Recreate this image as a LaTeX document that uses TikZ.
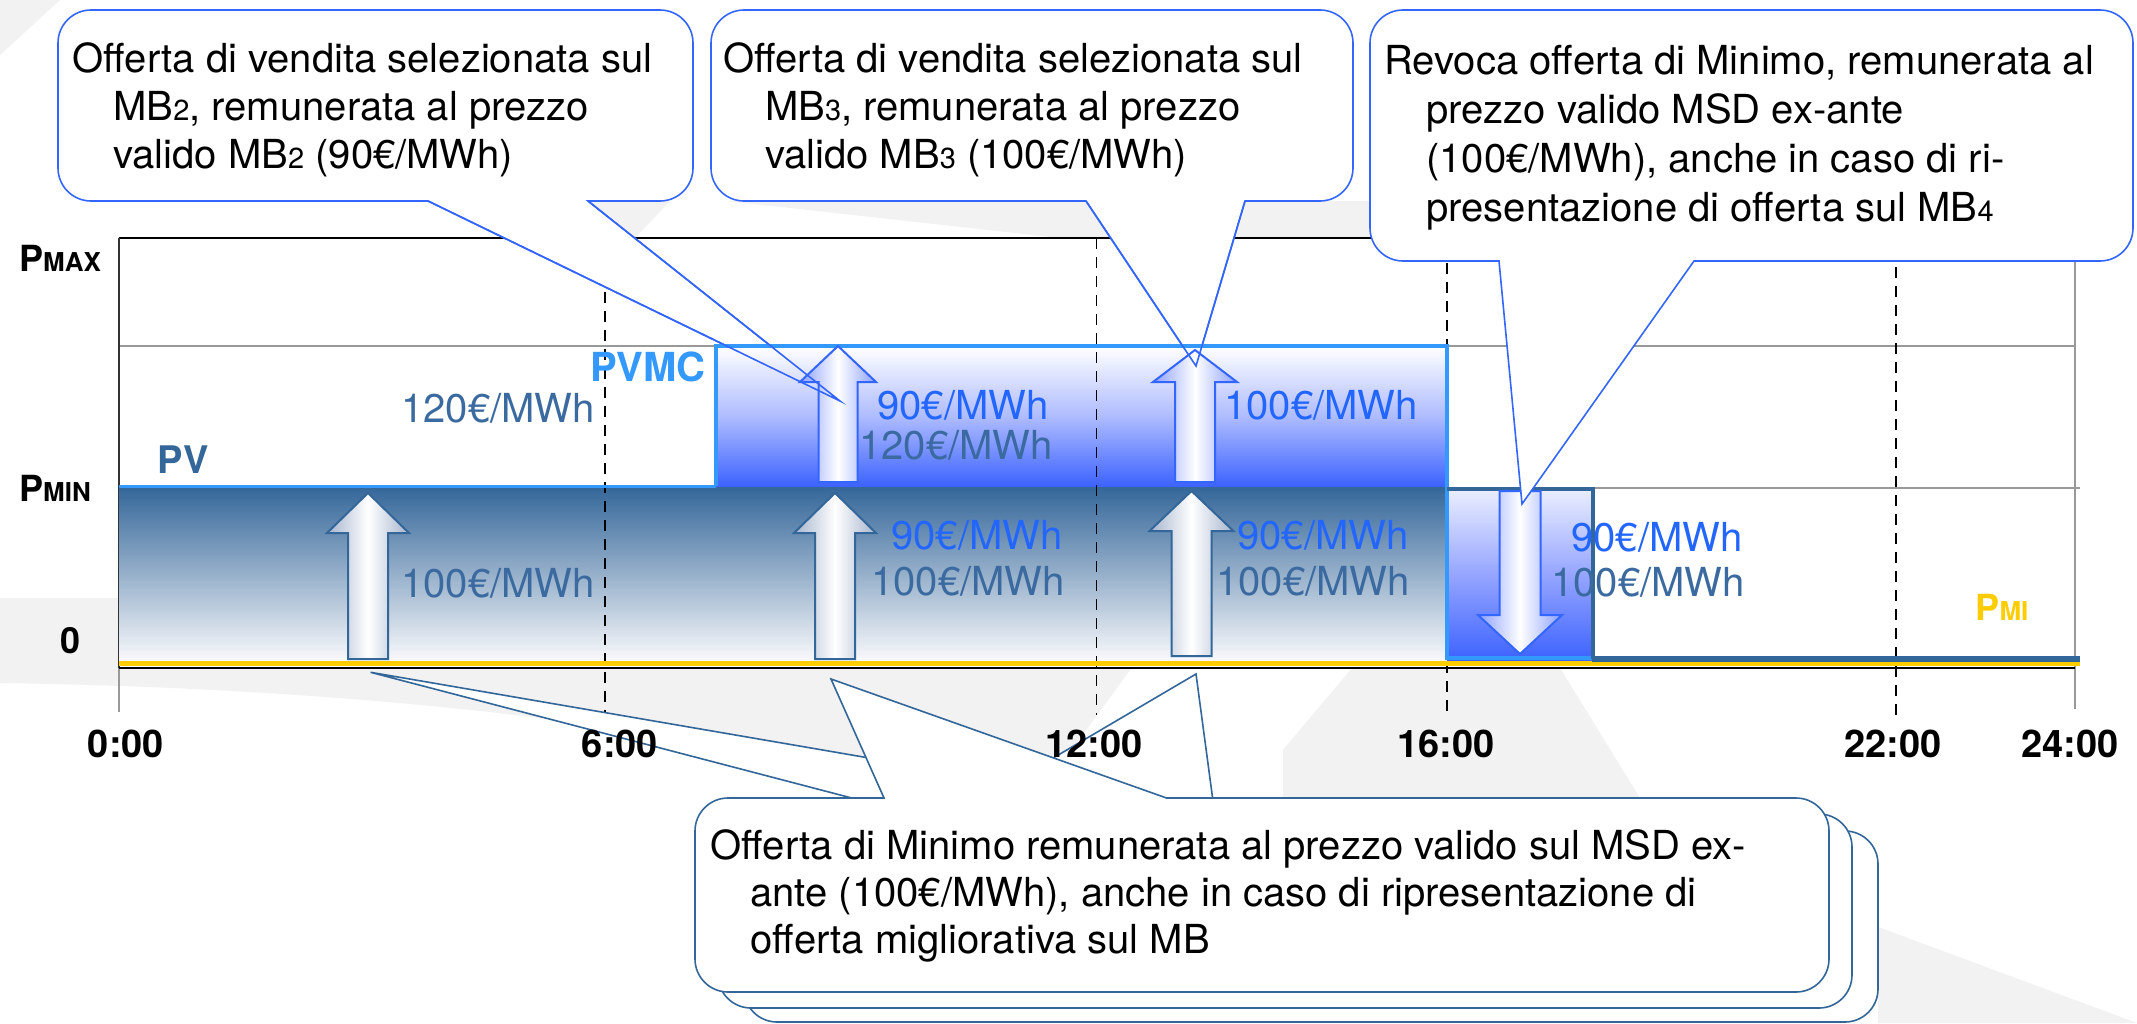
\documentclass[tikz,border=0pt]{standalone}
\usepackage{fontspec}
\setmainfont{TeX Gyre Heros}
\definecolor{steel}{RGB}{51,102,153}
\definecolor{lblue}{RGB}{51,153,255}
\definecolor{cbl}{RGB}{51,102,255}
\definecolor{vivid}{RGB}{61,99,255}
\definecolor{midblue}{RGB}{175,188,255}
\definecolor{downtop}{RGB}{235,238,255}
\definecolor{downmid}{RGB}{150,165,255}
\definecolor{lowbot}{RGB}{250,250,252}
\definecolor{rtxt}{RGB}{34,102,255}
\definecolor{stxt}{RGB}{58,106,160}
\definecolor{ylw}{RGB}{255,204,0}
\definecolor{bggray}{RGB}{242,242,242}
\definecolor{gridc}{RGB}{153,153,153}
\definecolor{lowedge}{RGB}{165,180,205}
\definecolor{upedge}{RGB}{140,160,255}
\newcommand\crad{33}
\newcommand\ckap{18.2}
\newcommand\smallpart[1]{{\fontsize{13}{13}\selectfont #1}}
\newcommand\mbdigit[1]{{\fontsize{14.5}{14.5}\selectfont #1}}
% callout with pointer on the bottom edge
\newcommand\calloutdown[9]{%
  \path[#1] (#2+\crad,#3) -- (#4-\crad,#3)
    .. controls (#4-\crad+\ckap,#3) and (#4,#3+\crad-\ckap) .. (#4,#3+\crad)
    -- (#4,#5-\crad)
    .. controls (#4,#5-\crad+\ckap) and (#4-\crad+\ckap,#5) .. (#4-\crad,#5)
    -- (#7,#5) -- (#8,#9) -- (#6,#5) -- (#2+\crad,#5)
    .. controls (#2+\crad-\ckap,#5) and (#2,#5-\crad+\ckap) .. (#2,#5-\crad)
    -- (#2,#3+\crad)
    .. controls (#2,#3+\crad-\ckap) and (#2+\crad-\ckap,#3) .. (#2+\crad,#3) -- cycle;}
% callout with pointer on the top edge
\newcommand\calloutup[9]{%
  \path[#1] (#2+\crad,#3) -- (#6,#3) -- (#8,#9) -- (#7,#3) -- (#4-\crad,#3)
    .. controls (#4-\crad+\ckap,#3) and (#4,#3+\crad-\ckap) .. (#4,#3+\crad)
    -- (#4,#5-\crad)
    .. controls (#4,#5-\crad+\ckap) and (#4-\crad+\ckap,#5) .. (#4-\crad,#5)
    -- (#2+\crad,#5)
    .. controls (#2+\crad-\ckap,#5) and (#2,#5-\crad+\ckap) .. (#2,#5-\crad)
    -- (#2,#3+\crad)
    .. controls (#2,#3+\crad-\ckap) and (#2+\crad-\ckap,#3) .. (#2+\crad,#3) -- cycle;}
% block arrow: style, cx, tip y, head y, bottom y, half shaft, half head
\newcommand\blockarrow[7]{%
  \path[#1] (#2,#3) -- (#2+#7,#4) -- (#2+#6,#4) -- (#2+#6,#5) -- (#2-#6,#5)
    -- (#2-#6,#4) -- (#2-#7,#4) -- cycle;}
\begin{document}
\begin{tikzpicture}[x=0.5pt,y=-0.5pt,line join=miter]
\tikzset{
  gridline/.style={draw=gridc,line width=1pt},
  dashv/.style={draw=black,line width=0.7pt,dash pattern=on 5.5pt off 4pt},
  topcall/.style={fill=white,draw=cbl,line width=0.8pt},
  botcall/.style={fill=white,draw=steel,line width=0.8pt},
  calltext/.style={align=left,anchor=north west,inner sep=0pt,text=black},
  rate/.style={font=\fontsize{20}{24}\selectfont,inner sep=0pt},
  timelab/.style={font=\bfseries\fontsize{19}{19}\selectfont,inner sep=0pt},
  axlab/.style={font=\bfseries\fontsize{18}{18}\selectfont,inner sep=0pt},
  lowarrow/.style={draw=steel,line width=1pt,left color=lowedge,right color=lowedge,middle color=white},
  uparr/.style={draw=cbl,line width=1pt,left color=upedge,right color=upedge,middle color=white},
}
% background
\fill[white] (0,0) rectangle (2137,1023);
\useasboundingbox (0,0) rectangle (2137,1023);
\fill[bggray] (0,0) -- (60,0) -- (0,55) -- cycle;
\fill[bggray] (0,598) -- (1140,598) -- (1140,668) -- (1130,670) -- (1010,835)
   .. controls (900,760) and (500,690) .. (0,683) -- cycle;
\fill[bggray] (560,201) -- (670,201) -- (635,238) -- (560,238) -- cycle;
\fill[bggray] (727,201) -- (1370,201) -- (1370,238) -- (1060,238) -- cycle;
\fill[bggray] (1283,750) -- (1352,668) -- (1560,668) -- (1640,798) -- (1283,798) -- cycle;
\fill[bggray] (1878,927) -- (2137,1023) -- (1878,1023) -- cycle;
% chart area
\fill[white] (119,238) rectangle (2075,668);
\draw[gridline] (119,346) -- (2075,346);
\draw[gridline] (1593,488) -- (2080,488);
\draw[black,line width=1pt] (119,238) -- (2075,238);
\draw[black!80,line width=1pt] (119,238) -- (119,668);
\draw[gridline] (119,668) -- (119,712);
\draw[gridline] (2075,238) -- (2075,709);
% top callouts 1 and 2
\calloutdown{topcall}{58}{10}{693}{201}{428}{588}{840}{401}
\calloutdown{topcall}{711}{10}{1353}{201}{1086}{1245}{1196}{366}
% filled bands
\shade[top color=steel,bottom color=lowbot] (119,486) rectangle (1447,662);
\shade[top color=white,bottom color=vivid,middle color=midblue] (716,346) rectangle (1447,486);
\shade[top color=downtop,bottom color=vivid,middle color=downmid] (1447,489) rectangle (1593,660);
% dashed hour lines
\draw[dashv] (605,292) -- (605,712);
\draw[dashv] (1096.5,238) -- (1096.5,715);
\draw[dashv] (1447,263) -- (1447,712);
\draw[dashv] (1896,267) -- (1896,715);
% zero line
\draw[ylw,line width=2.5pt] (119,663.5) -- (2080,663.5);
\draw[black,line width=1pt] (119,667.5) -- (2075,667.5);
% programme lines
\draw[lblue,line width=1.5pt] (119,486) -- (716,486);
\draw[lblue,line width=2pt] (716,486) -- (716,346) -- (1447,346) -- (1447,658) -- (1593,658);
\draw[steel,line width=2pt] (1447,489) -- (1593,489) -- (1593,659);
\draw[steel,line width=3pt] (1592,659) -- (2080,659);
% arrows
\blockarrow{lowarrow}{368}{493}{533}{659}{20}{41}
\blockarrow{lowarrow}{835}{493}{533}{659}{20}{41}
\blockarrow{lowarrow}{1191.5}{491}{531}{656}{20}{42}
\blockarrow{uparr}{838}{346}{382}{482}{19.5}{38}
\blockarrow{uparr}{1195}{350}{382}{482}{20}{42}
\blockarrow{uparr}{1520}{654}{615}{491}{20.5}{42}
% pointer lines of callouts 1 and 2 over the bands
\draw[cbl,line width=0.8pt] (428,201) -- (840,401) -- (588,201);
\draw[cbl,line width=0.8pt] (1086,201) -- (1196,366) -- (1245,201);
% price labels
\node[rate,text=stxt] (r1) at (498,408) {120€/MWh};
\node[rate,text=rtxt] (r2) at (963,405) {90€/MWh};
\node[rate,text=stxt] (r3) at (956,445) {120€/MWh};
\node[rate,text=stxt] (r4) at (498,583) {100€/MWh};
\node[rate,text=rtxt] (r5) at (977,535) {90€/MWh};
\node[rate,text=stxt] (r6) at (968,581) {100€/MWh};
\node[rate,text=rtxt] (r7) at (1321,405) {100€/MWh};
\node[rate,text=rtxt] (r8) at (1323,535) {90€/MWh};
\node[rate,text=stxt] (r9) at (1313,581) {100€/MWh};
\node[rate,text=rtxt] (r10) at (1657,537) {90€/MWh};
\node[rate,text=stxt] (r11) at (1648,582) {100€/MWh};
% curve labels
\node[font=\bfseries\fontsize{19}{19}\selectfont,text=steel,inner sep=0pt] (pv) at (183,460) {PV};
\node[font=\bfseries\fontsize{20}{20}\selectfont,text=lblue,inner sep=0pt] (pvmc) at (648,367) {PVMC};
\node[axlab,text=ylw] (pmi) at (2002,607) {P\smallpart{MI}};
% axis labels
\node[axlab] (pmax) at (60,258) {P\smallpart{MAX}};
\node[axlab] (pmin) at (55,488) {P\smallpart{MIN}};
\node[axlab] (zero) at (71,641) {0};
% callout texts 1 and 2
\node[calltext,font=\fontsize{20}{24}\selectfont] (t1) at (72,42)
  {Offerta di vendita selezionata sul\\\hspace*{20.5pt}MB\mbdigit{2}, remunerata al prezzo\\\hspace*{20.5pt}valido MB\mbdigit{2} (90€/MWh)};
\node[calltext,font=\fontsize{20}{24}\selectfont] (t2) at (722.6,42)
  {Offerta di vendita selezionata sul\\\hspace*{21pt}MB\mbdigit{3}, remunerata al prezzo\\\hspace*{21pt}valido MB\mbdigit{3} (100€/MWh)};
% callout 3
\calloutdown{topcall}{1370}{10}{2133}{261}{1499}{1694}{1522}{504}
\node[calltext,font=\fontsize{20}{24.5}\selectfont] (t3) at (1384,45)
  {Revoca offerta di Minimo, remunerata al\\\hspace*{21pt}prezzo valido MSD ex-ante\\\hspace*{21pt}(100€/MWh), anche in caso di ri-\\\hspace*{21pt}presentazione di offerta sul MB\mbdigit{4}};
% bottom stacked callouts
\calloutup{botcall}{744}{831}{1878}{1022}{929}{1217}{1196}{674}
\calloutup{botcall}{718}{814}{1852}{1008}{913}{1195}{370.6}{672.3}
\calloutup{botcall}{695}{798}{1829}{992}{884}{1166.5}{831}{679}
\node[calltext,font=\fontsize{20}{23.5}\selectfont] (t4) at (710,829)
  {Offerta di Minimo remunerata al prezzo valido sul MSD ex-\\\hspace*{20pt}ante (100€/MWh), anche in caso di ripresentazione di\\\hspace*{20pt}offerta migliorativa sul MB};
% time labels
\node[timelab] (h0) at (126,744) {0:00};
\node[timelab] (h6) at (620,744) {6:00};
\node[timelab] (h12) at (1094,744) {12:00};
\node[timelab] (h16) at (1446,744) {16:00};
\node[timelab] (h22) at (1893,744) {22:00};
\node[timelab] (h24) at (2070,744) {24:00};
\end{tikzpicture}
\end{document}
